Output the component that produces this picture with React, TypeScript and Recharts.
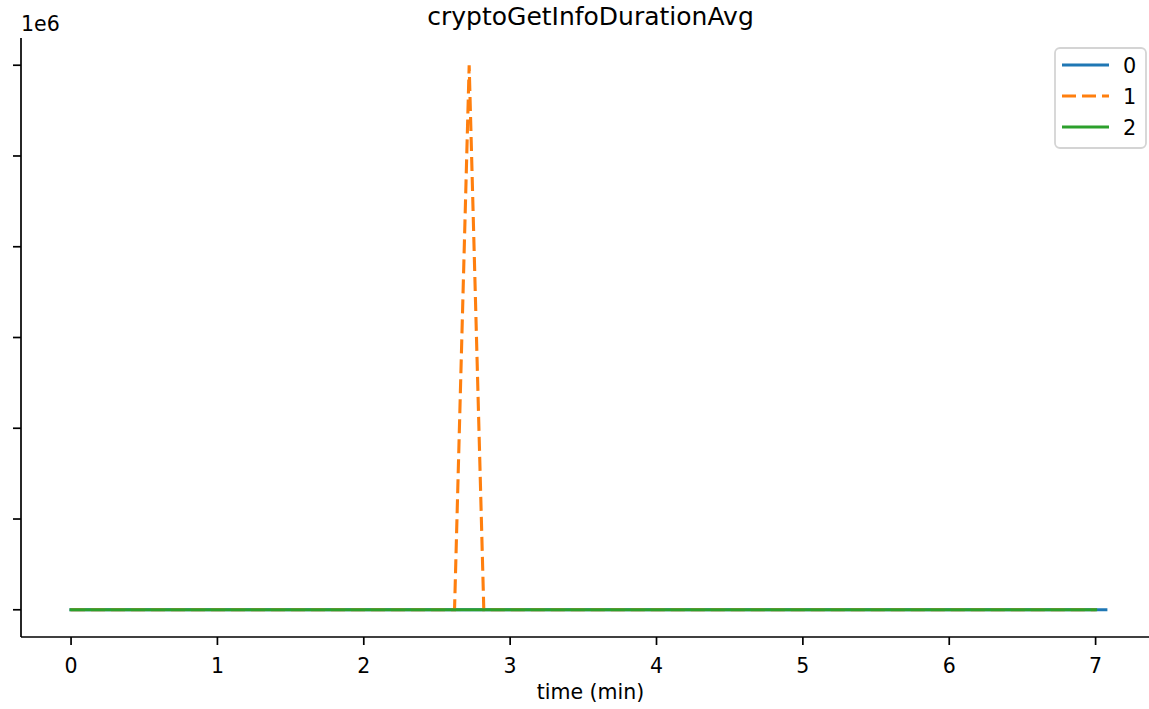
import React from 'react';
import { LineChart, Line, XAxis, YAxis, Legend } from 'recharts';

const series0Time = [0, 7.07];
const series0Value = [0, 0];
const series1Time = [0, 2.62, 2.72, 2.82, 7.0];
const series1Value = [0, 0, 3000000, 0, 0];
const series2Time = [0, 7.0];
const series2Value = [0, 0];

const xTicks = [0, 1, 2, 3, 4, 5, 6, 7];
const yTicks = [0, 500000, 1000000, 1500000, 2000000, 2500000, 3000000];
const seriesNames = ['0', '1', '2'];
const seriesColors = ['#1f77b4', '#ff7f0e', '#2ca02c'];

const toRows = (t: number[], v: number[]) => t.map((x, i) => ({ t: x, v: v[i] }));
const data0 = toRows(series0Time, series0Value);
const data1 = toRows(series1Time, series1Value);
const data2 = toRows(series2Time, series2Value);

const FONT = '"DejaVu Sans", sans-serif';
const X_DOMAIN: [number, number] = [-0.342, 7.44];
const Y_DOMAIN: [number, number] = [-150000, 3150000];

const renderLegend = () => (
  <svg width={94} height={103} style={{ display: 'block' }}>
    <rect x={1} y={1} width={91} height={100} rx={5} ry={5} fill="#ffffff" stroke="#d4d4d4" strokeWidth={1.8} />
    {seriesNames.map((name, i) => {
      const cy = 18 + i * 31;
      return (
        <g key={name}>
          <line
            x1={8}
            x2={55}
            y1={cy}
            y2={cy}
            stroke={seriesColors[i]}
            strokeWidth={3.1}
            strokeDasharray={i === 1 ? '14 6' : undefined}
          />
          <text x={69} y={cy + 8} fontSize={20.8} fontFamily={FONT} fill="#000">
            {name}
          </text>
        </g>
      );
    })}
  </svg>
);

const EmptyTick = () => <g />;

export default function App() {
  return (
    <div style={{ position: 'absolute', left: 0, top: 0, width: 1149, height: 709, overflow: 'hidden', background: '#fff' }}>
      <LineChart width={1200} height={709} margin={{ top: 38, right: 40, left: 0, bottom: 0 }}>
        <XAxis
          dataKey="t"
          type="number"
          domain={X_DOMAIN}
          ticks={xTicks}
          allowDataOverflow
          height={72}
          tickSize={8}
          tickMargin={13}
          tick={{ fill: '#000', fontSize: 20.5, fontFamily: FONT }}
          tickLine={{ stroke: '#000', strokeWidth: 1.7 }}
          axisLine={{ stroke: '#000', strokeWidth: 1.7 }}
          label={{ value: 'time (min)', position: 'insideBottom', offset: 10, fill: '#000', fontSize: 20.5, fontFamily: FONT }}
        />
        <XAxis
          xAxisId="top"
          orientation="top"
          dataKey="t"
          type="number"
          domain={X_DOMAIN}
          allowDataOverflow
          height={0}
          tick={false}
          tickLine={false}
          axisLine={{ stroke: '#000', strokeWidth: 1.7 }}
        />
        <YAxis
          type="number"
          domain={Y_DOMAIN}
          ticks={yTicks}
          allowDataOverflow
          width={21}
          tickSize={8}
          tick={EmptyTick}
          tickLine={{ stroke: '#000', strokeWidth: 1.7 }}
          axisLine={{ stroke: '#000', strokeWidth: 1.7 }}
        />
        <Legend
          layout="horizontal"
          verticalAlign="middle"
          align="center"
          content={renderLegend}
          wrapperStyle={{ position: 'absolute', left: 1054, top: 47, width: 94, height: 103, margin: 0, padding: 0 }}
        />
        <Line
          data={data0}
          dataKey="v"
          name={seriesNames[0]}
          type="linear"
          stroke={seriesColors[0]}
          strokeWidth={3.1}
          strokeLinecap="square"
          dot={false}
          activeDot={false}
          isAnimationActive={false}
        />
        <Line
          data={data1}
          dataKey="v"
          name={seriesNames[1]}
          type="linear"
          stroke={seriesColors[1]}
          strokeWidth={3.1}
          strokeDasharray="14 6"
          dot={false}
          activeDot={false}
          isAnimationActive={false}
        />
        <Line
          data={data2}
          dataKey="v"
          name={seriesNames[2]}
          type="linear"
          stroke={seriesColors[2]}
          strokeWidth={3.1}
          strokeLinecap="square"
          dot={false}
          activeDot={false}
          isAnimationActive={false}
        />
      </LineChart>
      <svg width={1149} height={709} style={{ position: 'absolute', left: 0, top: 0, pointerEvents: 'none' }}>
        <text x={590.5} y={25} textAnchor="middle" fontSize={25} fontFamily={FONT} fill="#000">
          cryptoGetInfoDurationAvg
        </text>
        <text x={21} y={30.5} fontSize={20.5} fontFamily={FONT} fill="#000">
          1e6
        </text>
      </svg>
    </div>
  );
}
